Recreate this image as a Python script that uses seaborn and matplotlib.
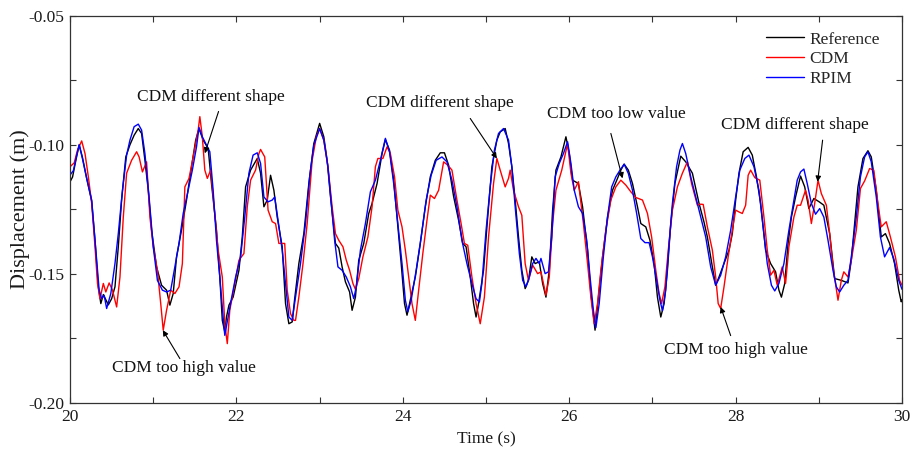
import pandas as pd
import seaborn as sns
import matplotlib
matplotlib.use('Agg')
import matplotlib.pyplot as plt
from matplotlib.ticker import MultipleLocator, FormatStrFormatter

# 读图得到的三条位移曲线 (时间 s, 位移 m)
ref_t = [20.00, 20.03, 20.07, 20.11, 20.15, 20.20, 20.26, 20.30, 20.34, 20.37, 20.40, 20.43, 20.46, 20.50,
         20.54, 20.58, 20.62, 20.67, 20.72, 20.77, 20.82, 20.86, 20.90, 20.94, 20.98, 21.04, 21.10, 21.16,
         21.20, 21.24, 21.28, 21.34, 21.40, 21.46, 21.51, 21.55, 21.60, 21.66, 21.70, 21.76, 21.80, 21.83,
         21.86, 21.88, 21.91, 21.96, 22.03, 22.07, 22.11, 22.17, 22.25, 22.29, 22.33, 22.37, 22.41, 22.45,
         22.49, 22.55, 22.59, 22.63, 22.67, 22.70, 22.75, 22.81, 22.87, 22.93, 23.00, 23.05, 23.09, 23.13,
         23.19, 23.23, 23.27, 23.31, 23.36, 23.39, 23.43, 23.47, 23.53, 23.59, 23.63, 23.69, 23.75, 23.79,
         23.84, 23.89, 23.93, 23.98, 24.02, 24.05, 24.09, 24.15, 24.21, 24.27, 24.33, 24.39, 24.45, 24.50,
         24.55, 24.61, 24.67, 24.72, 24.76, 24.81, 24.85, 24.88, 24.91, 24.97, 25.02, 25.07, 25.13, 25.17,
         25.23, 25.27, 25.31, 25.35, 25.39, 25.43, 25.47, 25.51, 25.55, 25.59, 25.64, 25.68, 25.72, 25.76,
         25.80, 25.84, 25.90, 25.96, 26.00, 26.04, 26.11, 26.16, 26.22, 26.26, 26.31, 26.35, 26.40, 26.46,
         26.52, 26.58, 26.62, 26.66, 26.71, 26.76, 26.82, 26.86, 26.92, 26.97, 27.02, 27.06, 27.10, 27.14,
         27.18, 27.22, 27.27, 27.34, 27.40, 27.48, 27.56, 27.62, 27.66, 27.72, 27.76, 27.80, 27.86, 27.92,
         27.96, 28.00, 28.04, 28.09, 28.15, 28.20, 28.25, 28.30, 28.36, 28.42, 28.48, 28.52, 28.55, 28.59,
         28.63, 28.67, 28.72, 28.78, 28.83, 28.88, 28.94, 29.00, 29.06, 29.13, 29.19, 29.27, 29.35, 29.39,
         29.43, 29.47, 29.53, 29.59, 29.63, 29.69, 29.75, 29.80, 29.85, 29.91, 29.96, 29.99, 30.00]
ref_v = [-0.1143, -0.1125, -0.1060, -0.1000, -0.1050, -0.1130, -0.1218, -0.1370, -0.1550, -0.1615, -0.1580,
         -0.1600, -0.1620, -0.1596, -0.1550, -0.1395, -0.1214, -0.1047, -0.1000, -0.0963, -0.0937, -0.0956,
         -0.1060, -0.1176, -0.1330, -0.1473, -0.1544, -0.1563, -0.1621, -0.1576, -0.1434, -0.1330, -0.1214,
         -0.1085, -0.0982, -0.0937, -0.0982, -0.1014, -0.1150, -0.1330, -0.1512, -0.1680, -0.1725, -0.1667,
         -0.1621, -0.1590, -0.1486, -0.1357, -0.1163, -0.1098, -0.1053, -0.1110, -0.1240, -0.1214, -0.1118,
         -0.1176, -0.1280, -0.1395, -0.1615, -0.1693, -0.1686, -0.1596, -0.1460, -0.1344, -0.1150, -0.0995,
         -0.0917, -0.0969, -0.1060, -0.1200, -0.1382, -0.1400, -0.1473, -0.1531, -0.1570, -0.1641, -0.1590,
         -0.1447, -0.1382, -0.1266, -0.1227, -0.1150, -0.1034, -0.0980, -0.1021, -0.1137, -0.1280, -0.1460,
         -0.1615, -0.1660, -0.1600, -0.1512, -0.1382, -0.1240, -0.1124, -0.1060, -0.1031, -0.1031, -0.1079,
         -0.1200, -0.1292, -0.1382, -0.1395, -0.1512, -0.1615, -0.1667, -0.1615, -0.1486, -0.1280, -0.1085,
         -0.0982, -0.0950, -0.0937, -0.0995, -0.1085, -0.1214, -0.1357, -0.1486, -0.1557, -0.1525, -0.1434,
         -0.1460, -0.1453, -0.1537, -0.1590, -0.1486, -0.1253, -0.1098, -0.1047, -0.0969, -0.1034, -0.1137,
         -0.1150, -0.1240, -0.1408, -0.1576, -0.1718, -0.1590, -0.1434, -0.1280, -0.1176, -0.1130, -0.1098,
         -0.1075, -0.1098, -0.1150, -0.1240, -0.1305, -0.1318, -0.1370, -0.1460, -0.1590, -0.1667, -0.1615,
         -0.1486, -0.1305, -0.1150, -0.1044, -0.1066, -0.1110, -0.1227, -0.1300, -0.1357, -0.1473, -0.1544,
         -0.1512, -0.1460, -0.1408, -0.1344, -0.1214, -0.1110, -0.1027, -0.1010, -0.1040, -0.1124, -0.1227,
         -0.1408, -0.1460, -0.1492, -0.1563, -0.1590, -0.1537, -0.1382, -0.1280, -0.1202, -0.1121, -0.1163,
         -0.1247, -0.1208, -0.1220, -0.1234, -0.1344, -0.1518, -0.1525, -0.1535, -0.1447, -0.1305, -0.1163,
         -0.1053, -0.1023, -0.1047, -0.1176, -0.1357, -0.1344, -0.1382, -0.1460, -0.1563, -0.1608, -0.1600]

cdm_t = [20.00, 20.05, 20.09, 20.14, 20.18, 20.22, 20.26, 20.30, 20.33, 20.36, 20.40, 20.43, 20.47, 20.51,
         20.56, 20.60, 20.64, 20.68, 20.74, 20.80, 20.83, 20.87, 20.92, 20.96, 21.00, 21.05, 21.09, 21.12,
         21.16, 21.21, 21.26, 21.31, 21.35, 21.38, 21.43, 21.48, 21.54, 21.56, 21.59, 21.62, 21.65, 21.69,
         21.74, 21.78, 21.83, 21.86, 21.89, 21.92, 21.98, 22.03, 22.09, 22.13, 22.17, 22.23, 22.27, 22.29,
         22.34, 22.38, 22.43, 22.47, 22.51, 22.58, 22.61, 22.65, 22.69, 22.71, 22.75, 22.80, 22.85, 22.91,
         22.96, 23.00, 23.05, 23.10, 23.15, 23.19, 23.23, 23.28, 23.32, 23.36, 23.40, 23.43, 23.47, 23.52,
         23.58, 23.63, 23.67, 23.70, 23.76, 23.81, 23.85, 23.90, 23.94, 23.99, 24.03, 24.07, 24.11, 24.15,
         24.19, 24.24, 24.29, 24.33, 24.38, 24.43, 24.49, 24.54, 24.59, 24.65, 24.70, 24.74, 24.78, 24.83,
         24.88, 24.93, 24.98, 25.03, 25.09, 25.13, 25.17, 25.23, 25.27, 25.29, 25.33, 25.39, 25.43, 25.47,
         25.51, 25.56, 25.62, 25.66, 25.72, 25.76, 25.80, 25.84, 25.91, 25.98, 26.02, 26.06, 26.11, 26.17,
         26.22, 26.26, 26.30, 26.34, 26.38, 26.44, 26.50, 26.56, 26.62, 26.68, 26.74, 26.80, 26.88, 26.94,
         26.99, 27.04, 27.08, 27.11, 27.15, 27.19, 27.24, 27.30, 27.36, 27.42, 27.47, 27.54, 27.58, 27.61,
         27.66, 27.72, 27.76, 27.79, 27.82, 27.86, 27.91, 27.96, 28.00, 28.04, 28.08, 28.12, 28.15, 28.18,
         28.23, 28.29, 28.34, 28.38, 28.42, 28.46, 28.50, 28.56, 28.60, 28.64, 28.70, 28.74, 28.78, 28.84,
         28.87, 28.91, 28.95, 28.99, 29.03, 29.09, 29.13, 29.17, 29.23, 29.27, 29.30, 29.35, 29.39, 29.45,
         29.50, 29.55, 29.61, 29.66, 29.71, 29.75, 29.81, 29.86, 29.92, 29.97, 30.00]
cdm_v = [-0.1085, -0.1070, -0.1020, -0.0985, -0.1034, -0.1124, -0.1227, -0.1395, -0.1537, -0.1596, -0.1537,
         -0.1570, -0.1535, -0.1563, -0.1628, -0.1512, -0.1280, -0.1110, -0.1060, -0.1027, -0.1047, -0.1105,
         -0.1066, -0.1280, -0.1395, -0.1486, -0.1615, -0.1718, -0.1641, -0.1563, -0.1576, -0.1550, -0.1460,
         -0.1163, -0.1130, -0.1047, -0.0943, -0.0891, -0.0969, -0.1098, -0.1130, -0.1098, -0.1266, -0.1408,
         -0.1512, -0.1693, -0.1770, -0.1641, -0.1537, -0.1447, -0.1421, -0.1240, -0.1137, -0.1098, -0.1034,
         -0.1018, -0.1047, -0.1253, -0.1298, -0.1305, -0.1382, -0.1382, -0.1563, -0.1654, -0.1680, -0.1680,
         -0.1590, -0.1460, -0.1305, -0.1060, -0.0969, -0.0937, -0.0982, -0.1085, -0.1240, -0.1344, -0.1370,
         -0.1395, -0.1447, -0.1486, -0.1537, -0.1560, -0.1518, -0.1434, -0.1357, -0.1240, -0.1085, -0.1053,
         -0.1053, -0.1008, -0.1034, -0.1124, -0.1253, -0.1318, -0.1408, -0.1512, -0.1615, -0.1680, -0.1563,
         -0.1421, -0.1292, -0.1195, -0.1208, -0.1176, -0.1066, -0.1079, -0.1098, -0.1214, -0.1305, -0.1382,
         -0.1389, -0.1512, -0.1615, -0.1693, -0.1590, -0.1357, -0.1150, -0.1053, -0.1098, -0.1163, -0.1130,
         -0.1098, -0.1176, -0.1240, -0.1273, -0.1460, -0.1525, -0.1466, -0.1499, -0.1492, -0.1583, -0.1512,
         -0.1305, -0.1176, -0.1098, -0.0995, -0.1110, -0.1176, -0.1143, -0.1305, -0.1460, -0.1590, -0.1693,
         -0.1615, -0.1486, -0.1331, -0.1214, -0.1163, -0.1137, -0.1156, -0.1182, -0.1204, -0.1214, -0.1266,
         -0.1357, -0.1486, -0.1576, -0.1615, -0.1550, -0.1408, -0.1253, -0.1163, -0.1110, -0.1066, -0.1150,
         -0.1234, -0.1230, -0.1231, -0.1318, -0.1408, -0.1512, -0.1615, -0.1634, -0.1550, -0.1434, -0.1331,
         -0.1253, -0.1260, -0.1266, -0.1234, -0.1118, -0.1098, -0.1127, -0.1137, -0.1280, -0.1408, -0.1505,
         -0.1486, -0.1544, -0.1473, -0.1537, -0.1395, -0.1280, -0.1234, -0.1234, -0.1176, -0.1214, -0.1305,
         -0.1227, -0.1137, -0.1189, -0.1234, -0.1344, -0.1473, -0.1602, -0.1525, -0.1492, -0.1512, -0.1447,
         -0.1331, -0.1169, -0.1140, -0.1092, -0.1098, -0.1227, -0.1318, -0.1298, -0.1357, -0.1434, -0.1525,
         -0.1544]

rpim_t = [20.00, 20.04, 20.08, 20.11, 20.15, 20.20, 20.26, 20.31, 20.35, 20.38, 20.41, 20.44, 20.49, 20.54,
          20.58, 20.63, 20.68, 20.72, 20.77, 20.82, 20.86, 20.90, 20.95, 21.00, 21.05, 21.11, 21.16, 21.21,
          21.26, 21.31, 21.36, 21.42, 21.47, 21.52, 21.55, 21.59, 21.63, 21.68, 21.72, 21.76, 21.80, 21.84,
          21.86, 21.90, 21.94, 21.99, 22.05, 22.10, 22.15, 22.20, 22.25, 22.29, 22.33, 22.38, 22.43, 22.46,
          22.50, 22.55, 22.59, 22.63, 22.67, 22.71, 22.77, 22.83, 22.88, 22.93, 23.00, 23.05, 23.10, 23.14,
          23.18, 23.22, 23.27, 23.32, 23.37, 23.41, 23.44, 23.49, 23.55, 23.61, 23.67, 23.73, 23.79, 23.84,
          23.89, 23.94, 23.99, 24.03, 24.06, 24.10, 24.16, 24.22, 24.28, 24.34, 24.40, 24.47, 24.53, 24.59,
          24.65, 24.71, 24.77, 24.83, 24.88, 24.92, 24.95, 25.00, 25.05, 25.10, 25.15, 25.21, 25.27, 25.31,
          25.35, 25.40, 25.44, 25.48, 25.52, 25.56, 25.60, 25.64, 25.66, 25.71, 25.75, 25.79, 25.83, 25.88,
          25.93, 25.98, 26.02, 26.06, 26.11, 26.16, 26.21, 26.25, 26.29, 26.32, 26.36, 26.41, 26.46, 26.51,
          26.56, 26.61, 26.66, 26.71, 26.76, 26.81, 26.86, 26.91, 26.96, 27.00, 27.05, 27.09, 27.12, 27.16,
          27.20, 27.24, 27.29, 27.33, 27.36, 27.40, 27.46, 27.52, 27.58, 27.64, 27.70, 27.76, 27.82, 27.88,
          27.94, 28.00, 28.05, 28.11, 28.16, 28.22, 28.28, 28.33, 28.38, 28.43, 28.47, 28.52, 28.58, 28.64,
          28.70, 28.74, 28.78, 28.82, 28.86, 28.91, 28.96, 29.01, 29.06, 29.11, 29.17, 29.21, 29.25, 29.30,
          29.35, 29.39, 29.45, 29.50, 29.55, 29.59, 29.63, 29.69, 29.74, 29.79, 29.85, 29.90, 29.96, 30.00]
rpim_v = [-0.1117, -0.1100, -0.1040, -0.1000, -0.1055, -0.1130, -0.1214, -0.1408, -0.1563, -0.1596, -0.1583,
          -0.1634, -0.1576, -0.1460, -0.1344, -0.1176, -0.1040, -0.0982, -0.0930, -0.0920, -0.0943, -0.1034,
          -0.1202, -0.1395, -0.1525, -0.1563, -0.1570, -0.1563, -0.1473, -0.1382, -0.1266, -0.1176, -0.1098,
          -0.1008, -0.0933, -0.0969, -0.0995, -0.1027, -0.1176, -0.1370, -0.1512, -0.1667, -0.1738, -0.1667,
          -0.1596, -0.1512, -0.1434, -0.1280, -0.1110, -0.1040, -0.1031, -0.1072, -0.1202, -0.1221, -0.1214,
          -0.1202, -0.1292, -0.1408, -0.1537, -0.1667, -0.1680, -0.1590, -0.1460, -0.1305, -0.1124, -0.1001,
          -0.0937, -0.0982, -0.1085, -0.1227, -0.1370, -0.1473, -0.1486, -0.1512, -0.1550, -0.1596, -0.1550,
          -0.1408, -0.1305, -0.1182, -0.1137, -0.1060, -0.0975, -0.1027, -0.1150, -0.1305, -0.1460, -0.1602,
          -0.1647, -0.1602, -0.1486, -0.1357, -0.1214, -0.1118, -0.1060, -0.1047, -0.1066, -0.1137, -0.1240,
          -0.1370, -0.1460, -0.1537, -0.1596, -0.1609, -0.1537, -0.1331, -0.1163, -0.1021, -0.0956, -0.0937,
          -0.0982, -0.1085, -0.1240, -0.1421, -0.1525, -0.1550, -0.1512, -0.1460, -0.1440, -0.1460, -0.1440,
          -0.1499, -0.1492, -0.1357, -0.1124, -0.1072, -0.1034, -0.0988, -0.1072, -0.1176, -0.1240, -0.1266,
          -0.1370, -0.1512, -0.1641, -0.1708, -0.1615, -0.1434, -0.1280, -0.1163, -0.1124, -0.1098, -0.1075,
          -0.1111, -0.1176, -0.1266, -0.1363, -0.1379, -0.1379, -0.1434, -0.1525, -0.1602, -0.1643, -0.1563,
          -0.1382, -0.1227, -0.1085, -0.1021, -0.0995, -0.1034, -0.1124, -0.1202, -0.1280, -0.1357, -0.1473,
          -0.1544, -0.1505, -0.1434, -0.1331, -0.1202, -0.1098, -0.1053, -0.1040, -0.1085, -0.1176, -0.1318,
          -0.1460, -0.1544, -0.1566, -0.1537, -0.1460, -0.1331, -0.1214, -0.1137, -0.1105, -0.1094, -0.1150,
          -0.1227, -0.1269, -0.1247, -0.1280, -0.1370, -0.1486, -0.1550, -0.1570, -0.1544, -0.1525, -0.1434,
          -0.1280, -0.1124, -0.1047, -0.1027, -0.1066, -0.1202, -0.1357, -0.1434, -0.1398, -0.1441, -0.1525,
          -0.1560]

methods = ['Reference', 'CDM', 'RPIM']
colors = {'Reference': 'black', 'CDM': 'red', 'RPIM': 'blue'}

# 标注文字: (文字, 文字位置, 箭尾, 箭头)
notes = [
    ('CDM different shape', (21.69, -0.0815), (21.785, -0.0871), (21.62, -0.1033)),
    ('CDM too high value', (21.366, -0.1866), (21.32, -0.1828), (21.115, -0.1718)),
    ('CDM different shape', (24.446, -0.0838), (24.81, -0.0898), (25.13, -0.1053)),
    ('CDM too low value', (26.564, -0.0881), (26.50, -0.0956), (26.64, -0.1130)),
    ('CDM different shape', (28.706, -0.0924), (29.045, -0.0982), (28.985, -0.1143)),
    ('CDM too high value', (28.00, -0.1796), (27.94, -0.1739), (27.82, -0.1628)),
]

df = pd.concat([
    pd.DataFrame({'Time': ref_t, 'Displacement': ref_v, 'Method': 'Reference'}),
    pd.DataFrame({'Time': cdm_t, 'Displacement': cdm_v, 'Method': 'CDM'}),
    pd.DataFrame({'Time': rpim_t, 'Displacement': rpim_v, 'Method': 'RPIM'}),
], ignore_index=True)

sns.set_style('ticks')
plt.rcParams['font.family'] = ['Liberation Serif', 'DejaVu Serif']
plt.rcParams['axes.unicode_minus'] = False
fs = 12.5

fig = plt.figure(figsize=(9.12, 4.55), dpi=100)
ax = fig.add_axes([0.0768, 0.1143, 0.9123, 0.8512])

sns.lineplot(data=df, x='Time', y='Displacement', hue='Method', hue_order=methods,
             palette=colors, estimator=None, sort=False, linewidth=1.0, legend=False, ax=ax)

ax.set_xlim(20, 30)
ax.set_ylim(-0.20, -0.05)
ax.xaxis.set_major_locator(MultipleLocator(2))
ax.xaxis.set_minor_locator(MultipleLocator(1))
ax.yaxis.set_major_locator(MultipleLocator(0.05))
ax.yaxis.set_minor_locator(MultipleLocator(0.025))
ax.yaxis.set_major_formatter(FormatStrFormatter('%.2f'))
ax.tick_params(which='both', direction='in', top=True, right=True, length=4,
               width=0.8, colors='#333333', labelsize=fs, pad=4)
ax.tick_params(axis='both', labelcolor='#1a1a1a')
for s in ax.spines.values():
    s.set_color('#333333')
    s.set_linewidth(0.9)

ax.set_xlabel('Time (s)', fontsize=fs, color='#1a1a1a', labelpad=5)
ax.set_ylabel('Displacement (m)', fontsize=16, color='#1a1a1a', labelpad=-1)

ax.legend(ax.lines[:3], methods, loc='upper left', bbox_to_anchor=(0.826, 0.982),
          frameon=False, borderpad=0, handlelength=2.2, handletextpad=0.3,
          labelspacing=0.2, fontsize=fs)

for text, pos, tail, tip in notes:
    ax.text(pos[0], pos[1], text, ha='center', va='center', fontsize=fs, color='#111111')
    ax.annotate('', xy=tip, xytext=tail,
                arrowprops=dict(arrowstyle='-|>', color='black', lw=0.8,
                                mutation_scale=8, shrinkA=0, shrinkB=0))

fig.savefig('out.png', dpi=100)
